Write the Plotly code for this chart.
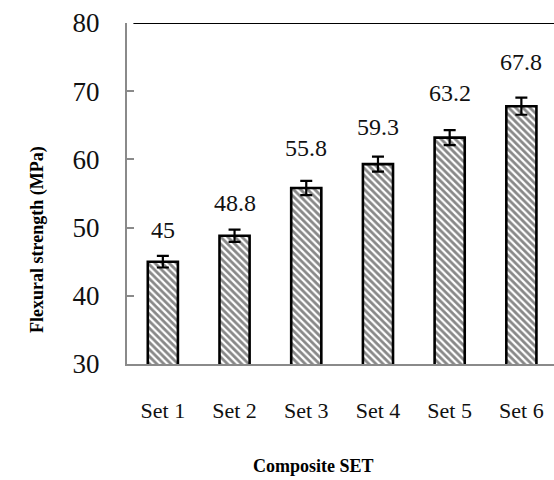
import plotly.graph_objects as go

# Flexural strength of each composite set
sets = ["Set 1", "Set 2", "Set 3", "Set 4", "Set 5", "Set 6"]
strength = [45, 48.8, 55.8, 59.3, 63.2, 67.8]
strength_err = [0.85, 0.9, 1.05, 1.1, 1.1, 1.25]

# vertical pixel offset of each value label above its bar top
label_shift = [32, 33, 40, 37, 45, 44]

y_ticks = [30, 40, 50, 60, 70, 80]

SERIF = "Liberation Serif"

fig = go.Figure()
fig.add_trace(go.Bar(
    x=sets,
    y=strength,
    width=0.42,
    marker=dict(
        color="white",
        line=dict(color="black", width=2.6),
        pattern=dict(shape="\\", fgcolor="#111111", bgcolor="white",
                     size=5, solidity=0.55),
    ),
    error_y=dict(type="data", array=strength_err, visible=True,
                 color="black", thickness=2.2, width=6),
    showlegend=False,
))

for s, v, dy in zip(sets, strength, label_shift):
    fig.add_annotation(x=s, y=v, text=f"{v:g}", showarrow=False,
                       yshift=dy, yanchor="middle",
                       font=dict(family=SERIF, size=24, color="#111"))

# frame line along the top of the plot
fig.add_shape(type="line", xref="paper", yref="y", x0=0.015, x1=1,
              y0=80, y1=80, line=dict(color="black", width=2))

fig.add_annotation(xref="paper", yref="paper", x=(37 - 127) / 427,
                   y=(364 - 240) / 341,
                   text="<b>Flexural strength (MPa)</b>", textangle=-90,
                   showarrow=False, xanchor="center", yanchor="middle",
                   font=dict(family=SERIF, size=18, color="black"))
fig.add_annotation(xref="paper", yref="paper", x=(313 - 127) / 427, y=-0.3,
                   text="<b>Composite SET</b>", showarrow=False,
                   xanchor="center", yanchor="middle",
                   font=dict(family=SERIF, size=18, color="black"))

fig.update_layout(
    width=554, height=480,
    margin=dict(l=127, r=0, t=23, b=116),
    paper_bgcolor="white", plot_bgcolor="white",
    font=dict(family=SERIF),
    xaxis=dict(range=[-0.5, 5.455], showline=True, linecolor="#8a8a8a",
               linewidth=2, ticks="", showgrid=False, zeroline=False,
               ticklabelstandoff=26,
               tickfont=dict(family=SERIF, size=22, color="#111")),
    yaxis=dict(range=[30, 80], tickvals=y_ticks, showline=True,
               linecolor="#8a8a8a", linewidth=2, ticks="inside",
               ticklen=7, tickwidth=2, tickcolor="#8a8a8a",
               showgrid=False, zeroline=False, ticklabelstandoff=20,
               tickfont=dict(family=SERIF, size=27, color="#111")),
)

fig.write_html("out.html")
